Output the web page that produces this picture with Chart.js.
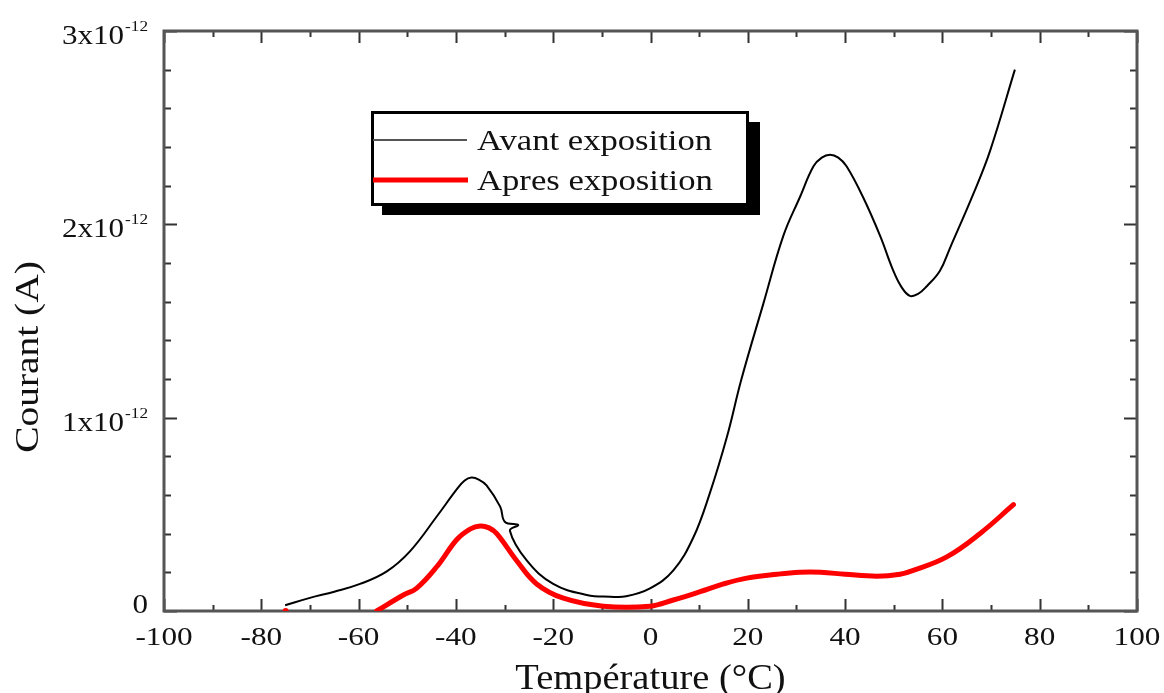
<!DOCTYPE html>
<html><head><meta charset="utf-8">
<script src="https://cdn.jsdelivr.net/npm/chart.js@4.4.0/dist/chart.umd.min.js"></script>
<style>html,body{margin:0;padding:0;background:#fff}#c{display:block}</style>
</head><body>
<canvas id="c" width="1164" height="693"></canvas>
<script>
// ---- data (current in units of 1e-12 A, temperature in °C) ----
const avantTemp = [-75.1,-70,-65,-59.7,-54.2,-49.4,-43.9,-39.8,-38.2,-36.8,-35.3,-33.7,-30.9,-29.9,-27.2,-28.9,-25.4,-20,-13.1,-8.3,-5,-0.1,4.7,8.8,12.2,15.7,18.7,23.2,27.3,30.7,33.5,35.2,36.9,38.6,40.3,43.7,47.2,49.9,51.6,53.3,55.0,56.8,59.5,61.6,66.4,69.8,74.9];
const avantCourant = [0.03,0.068,0.10,0.14,0.205,0.31,0.49,0.63,0.675,0.69,0.68,0.65,0.54,0.46,0.445,0.415,0.26,0.14,0.083,0.074,0.076,0.117,0.21,0.38,0.61,0.90,1.20,1.59,1.94,2.14,2.30,2.345,2.36,2.345,2.30,2.14,1.94,1.76,1.675,1.63,1.64,1.68,1.76,1.88,2.16,2.38,2.80];
const apresTemp = [-56.3,-50.8,-48.1,-43.9,-39.8,-37,-35.0,-33.2,-31.6,-27.5,-23.4,-17.9,-9.7,-0.1,4.7,10.2,15,19.8,26,30.7,35,40,46.5,51.3,54,60.9,67.7,74.6];
const apresCourant = [0,0.083,0.117,0.23,0.37,0.425,0.44,0.43,0.40,0.26,0.14,0.066,0.025,0.025,0.057,0.10,0.14,0.17,0.19,0.20,0.20,0.19,0.18,0.19,0.21,0.28,0.40,0.55];
const apresDotTemp = [-75];
const apresDotCourant = [0];
const seriesNames = ["Avant exposition", "Apres exposition"];
const xTickValues = [-100,-80,-60,-40,-20,0,20,40,60,80,100];
const xTickLabels = ["-100","-80","-60","-40","-20","0","20","40","60","80","100"];
const yTickValues = [0,1,2,3];
const yTickBase = ["0","1x10","2x10","3x10"];
const yTickExp = ["","-12","-12","-12"];
const xTitle = "Température (°C)";
const yTitle = "Courant (A)";

const pts = (xs, ys) => xs.map((x, i) => ({x: x, y: ys[i]}));
const SERIF = '"Liberation Serif", "Times New Roman", serif';

function sText(ctx, txt, x, y, size, align, sx) {
  ctx.save();
  ctx.font = size + 'px ' + SERIF;
  const w = ctx.measureText(txt).width * sx;
  let x0 = x;
  if (align === 'center') x0 = x - w / 2;
  else if (align === 'right') x0 = x - w;
  ctx.translate(x0, y);
  ctx.scale(sx, 1);
  ctx.textAlign = 'left';
  ctx.textBaseline = 'alphabetic';
  ctx.fillText(txt, 0, 0);
  ctx.restore();
  return w;
}

const decor = {
  id: 'decor',
  beforeDatasetsDraw(chart) {
    const ctx = chart.ctx, a = chart.chartArea;
    const xs = chart.scales.x, ys = chart.scales.y;
    ctx.save();
    ctx.fillStyle = '#111';
    ctx.strokeStyle = '#333';
    ctx.lineWidth = 2;
    for (let v = -100; v <= 100; v += 10) {
      const px = Math.round(xs.getPixelForValue(v)) + 0.5;
      const len = (v % 20 === 0) ? 12 : 6;
      ctx.beginPath();
      ctx.moveTo(px, a.bottom); ctx.lineTo(px, a.bottom - len);
      ctx.moveTo(px, a.top); ctx.lineTo(px, a.top + len);
      ctx.stroke();
    }
    for (let k = 0; k <= 15; k++) {
      const v = k * 0.2;
      const py = Math.round(ys.getPixelForValue(v)) + 0.5;
      const len = (k % 5 === 0) ? 13 : 7;
      ctx.beginPath();
      ctx.moveTo(a.left, py); ctx.lineTo(a.left + len, py);
      ctx.moveTo(a.right, py); ctx.lineTo(a.right - len, py);
      ctx.stroke();
    }
    ctx.strokeStyle = '#555';
    ctx.lineWidth = 3;
    ctx.strokeRect(a.left, a.top, a.right - a.left, a.bottom - a.top);
    ctx.restore();
  },
  afterDraw(chart) {
    const ctx = chart.ctx, a = chart.chartArea;
    const xs = chart.scales.x, ys = chart.scales.y;
    ctx.save();
    ctx.fillStyle = '#111';
    // x tick labels
    xTickValues.forEach((v, i) => {
      sText(ctx, xTickLabels[i], xs.getPixelForValue(v), a.bottom + 34, 26, 'center', 1.2);
    });
    // y tick labels
    yTickValues.forEach((v, i) => {
      const py = ys.getPixelForValue(v);
      const rightX = 148;
      if (yTickExp[i]) {
        ctx.font = '15px ' + SERIF;
        const we = ctx.measureText(yTickExp[i]).width * 1.15;
        const base = py + 13;
        sText(ctx, yTickExp[i], rightX, base - 13, 15, 'right', 1.15);
        sText(ctx, yTickBase[i], rightX - we - 1, base, 27, 'right', 1.15);
      } else {
        sText(ctx, yTickBase[i], rightX, py + 2, 27, 'right', 1.15);
      }
    });
    // axis titles
    sText(ctx, xTitle, (a.left + a.right) / 2, 689, 35, 'center', 1.1);
    ctx.save();
    ctx.translate(38, 357);
    ctx.rotate(-Math.PI / 2);
    sText(ctx, yTitle, 0, 0, 34, 'center', 1.16);
    ctx.restore();
    // legend box with shadow
    ctx.fillStyle = '#000';
    ctx.fillRect(382, 122, 378, 93);
    ctx.fillStyle = '#fff';
    ctx.fillRect(372, 112, 376, 93);
    ctx.strokeStyle = '#000';
    ctx.lineWidth = 3;
    ctx.strokeRect(372.5, 112.5, 375, 92);
    ctx.lineCap = 'butt';
    ctx.strokeStyle = '#555';
    ctx.lineWidth = 2;
    ctx.beginPath(); ctx.moveTo(373, 140); ctx.lineTo(467, 140); ctx.stroke();
    ctx.strokeStyle = '#ff0000';
    ctx.lineWidth = 5;
    ctx.beginPath(); ctx.moveTo(373, 180); ctx.lineTo(468, 180); ctx.stroke();
    ctx.fillStyle = '#111';
    sText(ctx, seriesNames[0], 477, 150, 30, 'left', 1.155);
    sText(ctx, seriesNames[1], 477, 190, 30, 'left', 1.155);
    ctx.restore();
  }
};

new Chart(document.getElementById('c'), {
  type: 'scatter',
  data: {
    datasets: [
      { label: seriesNames[0], data: pts(avantTemp, avantCourant), showLine: true,
        borderColor: '#000', borderWidth: 2, pointRadius: 0, tension: 0.4, fill: false },
      { label: seriesNames[1], data: pts(apresTemp, apresCourant), showLine: true,
        borderColor: '#ff0000', borderWidth: 5, pointRadius: 0, tension: 0.4, fill: false,
        borderCapStyle: 'round', borderJoinStyle: 'round' },
      { label: seriesNames[1] + ' (début)', data: pts(apresDotTemp, apresDotCourant), showLine: false,
        pointRadius: 3, pointBackgroundColor: '#ff0000', pointBorderWidth: 0 }
    ]
  },
  options: {
    responsive: false, animation: false, devicePixelRatio: 1,
    layout: { padding: { top: 31, right: 27, left: 0, bottom: 0 } },
    plugins: { legend: { display: false }, tooltip: { enabled: false } },
    scales: {
      x: { type: 'linear', min: -100, max: 100,
        grid: { display: false }, border: { display: false },
        ticks: { display: false, stepSize: 20 },
        afterFit(s) { s.height = 82; } },
      y: { type: 'linear', min: 0, max: 3,
        grid: { display: false }, border: { display: false },
        ticks: { display: false, stepSize: 1 },
        afterFit(s) { s.width = 164; } }
    }
  },
  plugins: [decor]
});
</script>
</body></html>
